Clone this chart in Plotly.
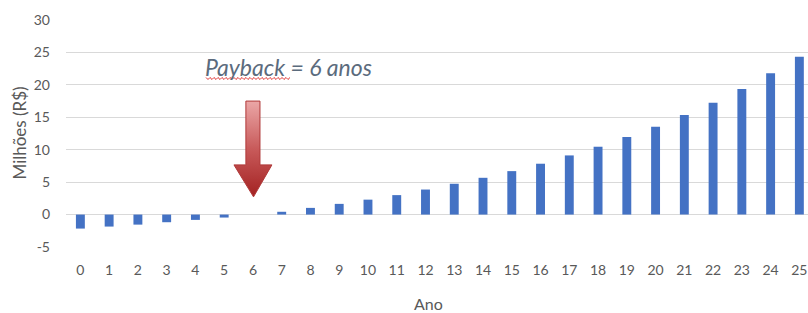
import plotly.graph_objects as go

anos = list(range(0, 26))
tick_labels = [str(a) for a in anos]
fluxo_acumulado = [-2.16, -1.85, -1.55, -1.18, -0.82, -0.46, 0.0, 0.43, 1.03, 1.65,
                   2.3, 3.0, 3.86, 4.75, 5.67, 6.7, 7.84, 9.12, 10.46, 11.96,
                   13.55, 15.36, 17.26, 19.38, 21.79, 24.33]
y_ticks = [-5, 0, 5, 10, 15, 20, 25, 30]
y_tick_labels = ["-5", "0", "5", "10", "15", "20", "25", "30"]
payback_ano = 6

W, H = 808, 313
L, R, T, B = 66, 0, 20, 66
PW, PH = W - L - R, H - T - B

def px(x):
    return (x - L) / PW

def py(y):
    return (H - B - y) / PH

fig = go.Figure()
fig.add_trace(go.Bar(
    x=anos, y=fluxo_acumulado, width=0.31,
    marker=dict(color="#4472C4", line=dict(width=0)),
    showlegend=False, hoverinfo="x+y",
))

# Block arrow (decoration) pointing at payback year, with vertical gradient
hw, hh = 0.245, 0.66
ax_x = [payback_ano - hw, payback_ano + hw, payback_ano + hw, payback_ano + hh,
        payback_ano + 0.02, payback_ano - hh, payback_ano - hw, payback_ano - hw]
ax_y = [17.5, 17.5, 7.66, 7.66, 2.73, 7.66, 7.66, 17.5]
fig.add_trace(go.Scatter(
    x=ax_x, y=ax_y, mode="lines", fill="toself",
    line=dict(color="#B03A3A", width=1),
    fillgradient=dict(type="vertical",
                      colorscale=[[0, "#A32222"], [0.5, "#C85A5A"], [1, "#EBA7A7"]]),
    showlegend=False, hoverinfo="skip",
))

# Spell-check style wavy underline under "Payback"
pts = []
xx = 206.0
i = 0
while xx <= 290:
    yy = 77.5 if i % 2 == 0 else 79.5
    pts.append(f"{px(xx):.5f},{py(yy):.5f}")
    xx += 2.0
    i += 1
path = "M " + " L ".join(pts)

fig.update_layout(
    width=W, height=H,
    margin=dict(l=L, r=R, t=T, b=B, autoexpand=False),
    paper_bgcolor="white", plot_bgcolor="white",
    font=dict(family="Lato, Carlito, 'Open Sans', sans-serif", color="#595959", size=14),
    bargap=0.7,
    xaxis=dict(
        range=[-0.5, 25.3], tickmode="array", tickvals=anos, ticktext=tick_labels,
        showgrid=False, zeroline=False, showline=False, ticks="",
        ticklabelstandoff=13, tickfont=dict(size=14, color="#595959"),
        fixedrange=True, automargin=False,
    ),
    yaxis=dict(
        range=[-5, 30], tickmode="array", tickvals=y_ticks, ticktext=y_tick_labels,
        showgrid=True, gridcolor="#D9D9D9", gridwidth=1,
        zeroline=True, zerolinecolor="#D9D9D9", zerolinewidth=1,
        showline=False, ticks="", ticklabelstandoff=15,
        tickfont=dict(size=14, color="#595959"),
        fixedrange=True, automargin=False,
    ),
    shapes=[dict(type="path", xref="paper", yref="paper", path=path,
                 line=dict(color="#E03030", width=1), layer="above")],
    annotations=[
        dict(text="Milhões (R$)", xref="paper", yref="paper", x=px(19), y=0.5,
             xanchor="center", yanchor="middle", textangle=-90, showarrow=False,
             font=dict(size=17, color="#595959")),
        dict(text="Ano", xref="paper", yref="paper", x=px(428), y=py(303),
             xanchor="center", yanchor="middle", showarrow=False,
             font=dict(size=16, color="#595959")),
        dict(text="<i>Payback = 6 anos</i>", xref="paper", yref="paper",
             x=px(203), y=py(67), xanchor="left", yanchor="middle",
             showarrow=False, font=dict(size=23, color="#5B6B7D", family="Lato, sans-serif")),
    ],
)

fig.write_html("out.html", config={"displayModeBar": False},
               post_script="document.body.style.margin='0';")
